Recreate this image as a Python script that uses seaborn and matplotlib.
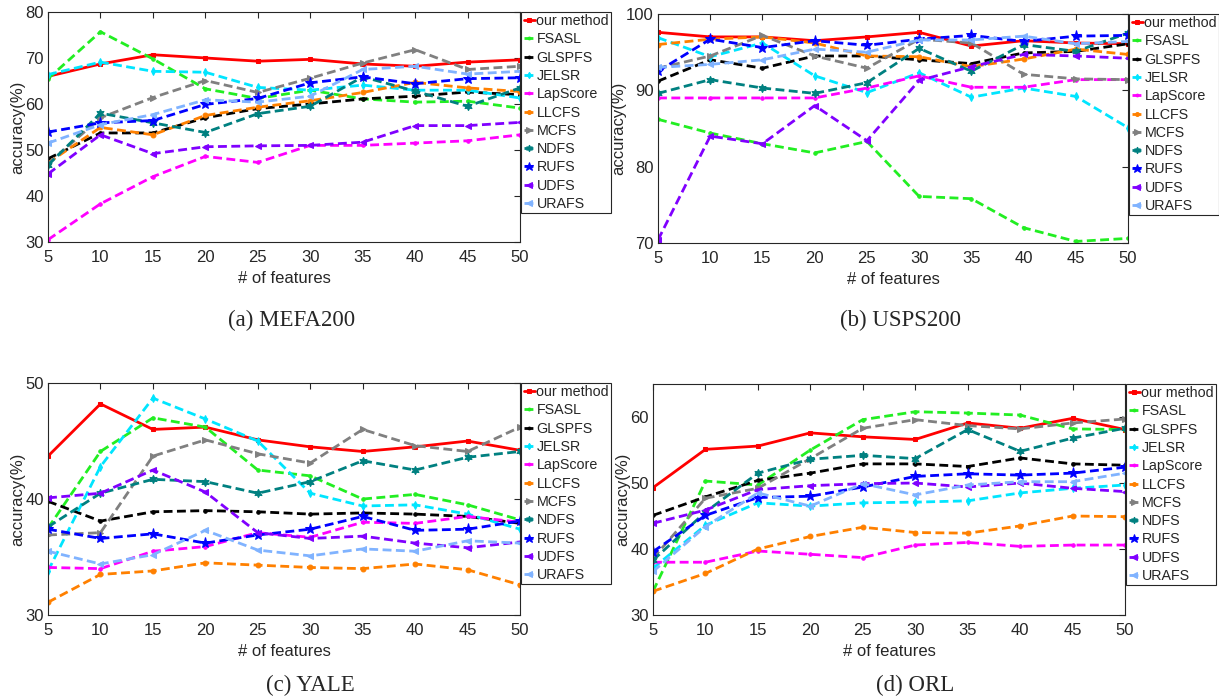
import matplotlib
matplotlib.use("Agg")
import matplotlib.pyplot as plt
import seaborn as sns
import pandas as pd

features = [5, 10, 15, 20, 25, 30, 35, 40, 45, 50]
methods = ["our method", "FSASL", "GLSPFS", "JELSR", "LapScore", "LLCFS",
           "MCFS", "NDFS", "RUFS", "UDFS", "URAFS"]

# (a) MEFA200
mefa_our      = [66.0, 68.7, 70.7, 70.0, 69.3, 69.7, 68.7, 68.2, 69.1, 69.6]
mefa_fsasl    = [65.5, 75.7, 69.8, 63.3, 61.2, 63.0, 61.1, 60.4, 60.6, 59.1]
mefa_glspfs   = [48.1, 53.7, 53.7, 57.0, 59.0, 60.0, 61.1, 61.7, 62.6, 62.0]
mefa_jelsr    = [66.4, 69.1, 67.1, 66.9, 63.6, 63.0, 64.1, 63.0, 63.0, 61.3]
mefa_lapscore = [30.5, 38.3, 44.2, 48.6, 47.3, 51.0, 51.0, 51.5, 52.0, 53.3]
mefa_llcfs    = [47.2, 54.9, 53.3, 57.5, 59.3, 60.7, 62.5, 64.7, 63.5, 62.7]
mefa_mcfs     = [47.0, 57.0, 61.4, 65.1, 62.5, 65.6, 68.9, 71.8, 67.5, 68.2]
mefa_ndfs     = [46.7, 58.0, 55.9, 53.8, 57.9, 59.5, 65.9, 62.8, 59.5, 63.5]
mefa_rufs     = [53.9, 55.9, 56.4, 59.9, 61.2, 64.6, 65.9, 64.4, 65.5, 65.7]
mefa_udfs     = [44.8, 53.3, 49.2, 50.7, 50.9, 51.0, 51.7, 55.3, 55.3, 56.0]
mefa_urafs    = [51.5, 55.5, 57.7, 60.9, 60.4, 61.7, 67.5, 68.2, 66.5, 67.1]

# (b) USPS200
usps_our      = [97.6, 97.0, 97.0, 96.5, 97.0, 97.6, 95.8, 96.5, 96.2, 96.1]
usps_fsasl    = [86.2, 84.4, 83.0, 81.8, 83.3, 76.1, 75.8, 72.0, 70.2, 70.6]
usps_glspfs   = [91.2, 94.0, 92.9, 94.5, 94.5, 94.0, 93.5, 94.9, 95.1, 96.1]
usps_jelsr    = [96.9, 94.4, 96.2, 91.9, 89.7, 92.3, 89.1, 90.3, 89.2, 85.1]
usps_lapscore = [89.0, 89.0, 89.0, 89.0, 90.3, 91.9, 90.4, 90.4, 91.4, 91.4]
usps_llcfs    = [96.0, 96.7, 97.0, 96.2, 94.5, 94.4, 93.1, 94.1, 95.4, 94.7]
usps_mcfs     = [92.9, 94.5, 97.2, 94.5, 92.9, 96.7, 96.2, 92.1, 91.5, 91.4]
usps_ndfs     = [89.6, 91.4, 90.3, 89.6, 91.0, 95.5, 92.5, 96.0, 95.1, 97.5]
usps_rufs     = [92.5, 96.7, 95.6, 96.5, 95.9, 96.7, 97.2, 96.4, 97.1, 97.2]
usps_udfs     = [70.4, 84.0, 83.0, 88.0, 83.4, 91.3, 93.1, 94.7, 94.5, 94.2]
usps_urafs    = [93.0, 93.4, 94.0, 95.4, 95.0, 96.6, 96.6, 97.1, 96.1, 96.4]

# (c) YALE
yale_our      = [43.7, 48.2, 46.0, 46.2, 45.1, 44.5, 44.1, 44.5, 45.0, 44.2]
yale_fsasl    = [37.5, 44.1, 47.0, 46.2, 42.5, 42.0, 40.0, 40.4, 39.5, 38.2]
yale_glspfs   = [39.8, 38.1, 38.9, 39.0, 38.9, 38.7, 38.8, 38.7, 38.5, 37.9]
yale_jelsr    = [33.8, 42.8, 48.7, 46.9, 45.0, 40.5, 39.4, 39.5, 38.7, 37.4]
yale_lapscore = [34.1, 34.0, 35.5, 35.9, 37.1, 36.7, 38.0, 37.9, 38.5, 38.0]
yale_llcfs    = [31.1, 33.5, 33.8, 34.5, 34.3, 34.1, 34.0, 34.4, 33.9, 32.6]
yale_mcfs     = [36.9, 37.1, 43.7, 45.1, 43.9, 43.1, 46.0, 44.6, 44.1, 46.2]
yale_ndfs     = [37.6, 40.5, 41.7, 41.5, 40.5, 41.5, 43.3, 42.5, 43.6, 44.1]
yale_rufs     = [37.4, 36.6, 37.0, 36.2, 36.9, 37.4, 38.5, 37.3, 37.4, 38.1]
yale_udfs     = [40.1, 40.5, 42.5, 40.6, 37.1, 36.6, 36.8, 36.2, 35.8, 36.3]
yale_urafs    = [35.5, 34.4, 35.2, 37.3, 35.6, 35.1, 35.7, 35.5, 36.4, 36.2]

# (d) ORL
orl_our       = [49.3, 55.1, 55.6, 57.6, 57.0, 56.6, 59.1, 58.3, 59.8, 58.1]
orl_fsasl     = [33.6, 50.3, 49.7, 55.0, 59.6, 60.8, 60.6, 60.3, 58.2, 58.1]
orl_glspfs    = [45.1, 47.9, 50.4, 51.5, 52.9, 52.9, 52.5, 53.8, 52.9, 52.7]
orl_jelsr     = [37.1, 43.6, 47.0, 46.5, 47.0, 47.1, 47.3, 48.5, 49.2, 49.7]
orl_lapscore  = [38.0, 38.0, 39.7, 39.2, 38.7, 40.6, 41.0, 40.4, 40.6, 40.6]
orl_llcfs     = [33.6, 36.3, 40.0, 41.9, 43.3, 42.5, 42.4, 43.5, 45.0, 44.9]
orl_mcfs      = [38.6, 47.7, 49.2, 53.7, 58.3, 59.6, 58.7, 58.2, 59.1, 59.7]
orl_ndfs      = [38.3, 45.6, 51.5, 53.6, 54.2, 53.7, 58.1, 54.8, 56.8, 58.3]
orl_rufs      = [39.6, 45.1, 47.8, 48.0, 49.4, 51.0, 51.4, 51.2, 51.5, 52.4]
orl_udfs      = [43.9, 45.9, 49.0, 49.6, 49.9, 50.0, 49.4, 50.0, 49.2, 48.7]
orl_urafs     = [36.6, 43.4, 48.5, 46.5, 49.9, 48.2, 49.7, 50.2, 50.2, 51.5]

datasets = [
    ("(a) MEFA200", [mefa_our, mefa_fsasl, mefa_glspfs, mefa_jelsr, mefa_lapscore, mefa_llcfs,
                     mefa_mcfs, mefa_ndfs, mefa_rufs, mefa_udfs, mefa_urafs],
     (30, 80), [30, 40, 50, 60, 70, 80]),
    ("(b) USPS200", [usps_our, usps_fsasl, usps_glspfs, usps_jelsr, usps_lapscore, usps_llcfs,
                     usps_mcfs, usps_ndfs, usps_rufs, usps_udfs, usps_urafs],
     (70, 100), [70, 80, 90, 100]),
    ("(c) YALE", [yale_our, yale_fsasl, yale_glspfs, yale_jelsr, yale_lapscore, yale_llcfs,
                  yale_mcfs, yale_ndfs, yale_rufs, yale_udfs, yale_urafs],
     (30, 50), [30, 40, 50]),
    ("(d) ORL", [orl_our, orl_fsasl, orl_glspfs, orl_jelsr, orl_lapscore, orl_llcfs,
                 orl_mcfs, orl_ndfs, orl_rufs, orl_udfs, orl_urafs],
     (30, 65), [30, 40, 50, 60]),
]

colors = ["#ff0000", "#22ee22", "#000000", "#00e5ff", "#ff00ff", "#ff8000",
          "#808080", "#008080", "#0000ff", "#8000ff", "#80b3ff"]
markers = ["s", ".", ".", "d", ".", "o", ">", (6, 1, 0), "*", "<", "<"]
msizes = [3.5, 5, 5, 4, 5, 3.5, 5, 6, 8, 5, 5]

sns.set_theme(style="white")
plt.rcParams["font.family"] = ["Liberation Sans", "DejaVu Sans"]

fig = plt.figure(figsize=(12.19, 7.0), dpi=100)
positions = [
    [0.0394, 0.6543, 0.3872, 0.3286],
    [0.5398, 0.6529, 0.3856, 0.3271],
    [0.0394, 0.1214, 0.3872, 0.3314],
    [0.5357, 0.1214, 0.3872, 0.3300],
]
captions_xy = [(292 / 1219, 1 - 320 / 700), (900 / 1219, 1 - 320 / 700),
               (310 / 1219, 1 - 685 / 700), (915 / 1219, 1 - 685 / 700)]

for (title, series, ylim, yticks), pos, cxy in zip(datasets, positions, captions_xy):
    ax = fig.add_axes(pos)
    for i, (name, vals) in enumerate(zip(methods, series)):
        df = pd.DataFrame({"features": features, "acc": vals})
        ls = "-" if i == 0 else (0, (3.2, 1.6))
        sns.lineplot(data=df, x="features", y="acc", ax=ax, color=colors[i],
                     marker=markers[i], markersize=msizes[i], markeredgecolor=colors[i],
                     linewidth=2.0, linestyle=ls, label=name)
    ax.set_xlim(5, 50)
    ax.set_ylim(*ylim)
    ax.set_xticks(features)
    ax.set_yticks(yticks)
    ax.tick_params(direction="in", top=True, right=True, length=4, width=0.8,
                   labelsize=12, colors="#262626", pad=6)
    ax.tick_params(axis="y", pad=3)
    for sp in ax.spines.values():
        sp.set_color("#262626")
        sp.set_linewidth(0.8)
    ax.set_xlabel("# of features", fontsize=12, color="#262626", labelpad=4)
    ax.set_ylabel("accuracy(%)", fontsize=12, color="#262626", labelpad=0)
    leg = ax.legend(loc="upper left", bbox_to_anchor=(1.003, 1.0), fontsize=10.3,
                    frameon=True, fancybox=False, edgecolor="#262626",
                    handlelength=0.8, handletextpad=0.1, borderpad=0.15,
                    labelspacing=0.3, borderaxespad=0.0, markerscale=0.8)
    leg.get_frame().set_linewidth(0.8)
    leg.get_frame().set_alpha(1)
    fig.text(cxy[0], cxy[1], title, ha="center", va="center", fontsize=16.5,
             family=["Liberation Serif", "DejaVu Serif"])

fig.savefig("out.png", dpi=100)
